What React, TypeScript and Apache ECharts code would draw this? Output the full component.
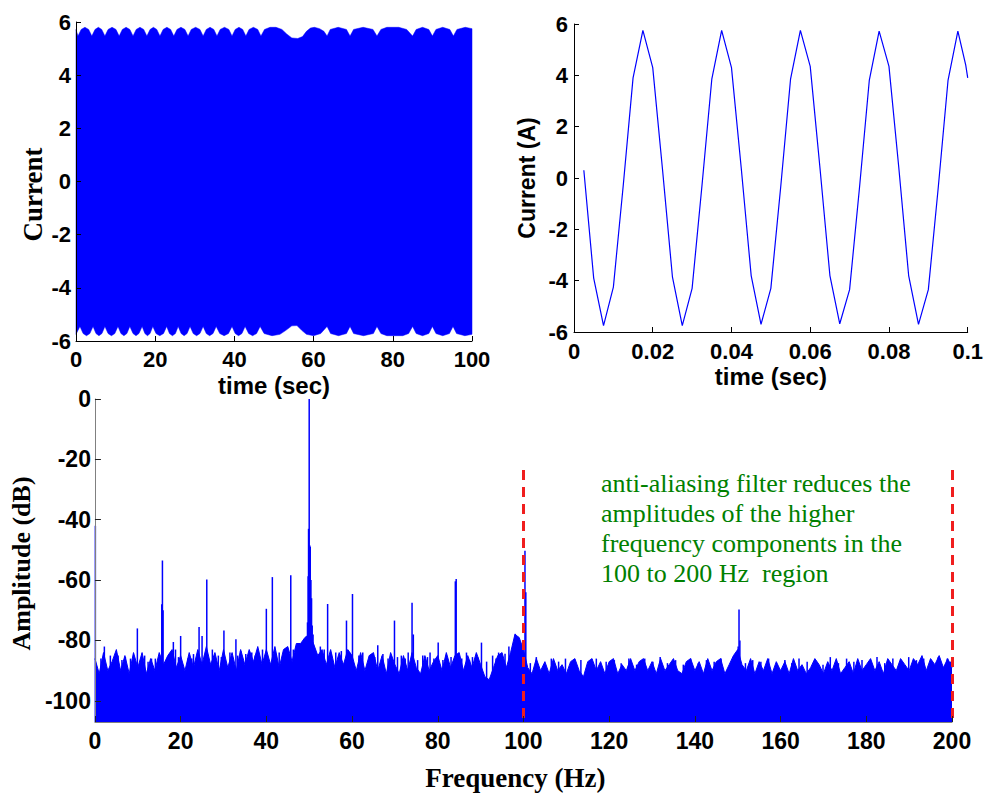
import React, { useEffect, useRef } from 'react';
import * as echarts from 'echarts';

// ---------- top-left: 100 s record, envelope of the dense 50 Hz trace ----------
const TL_X_TICKS = [0, 20, 40, 60, 80, 100];
const TL_Y_TICKS = [-6, -4, -2, 0, 2, 4, 6];
const envUpperT = [0, 0.5, 1.3, 2.25, 3.2, 4.0, 4.8, 5.65, 6.5, 7.3, 8.1, 9.1, 10.1, 10.9, 11.7, 12.65, 13.6, 14.4,
  15.2, 16.15, 17.1, 17.9, 18.7, 19.55, 20.4, 21.2, 22.0, 22.95, 23.9, 24.7, 25.5, 26.5, 27.5, 28.3, 29.1, 30.2, 31.3,
  32.1, 32.9, 33.85, 34.8, 35.6, 36.4, 37.5, 38.6, 39.4, 40.2, 41.15, 42.1, 42.9, 43.7, 44.8, 45.9, 46.7, 47.6, 49,
  50.5, 52, 53.2, 54.5, 56, 57.2, 58.2, 59.2, 60.2, 61.5, 62.6, 63.4, 64.2, 66.2, 68.3, 69.2, 70.1, 72.5, 75.0, 76,
  77, 78.5, 81.5, 83.5, 85, 85.9, 87.5, 89.1, 90, 90.9, 92.6, 94.4, 95.3, 96.2, 98.3, 100];
const envUpperV = [5.72, 5.47, 5.72, 5.8, 5.72, 5.47, 5.72, 5.8, 5.72, 5.47, 5.72, 5.8, 5.72, 5.47, 5.72, 5.8, 5.72, 5.47,
  5.72, 5.8, 5.72, 5.47, 5.72, 5.8, 5.72, 5.47, 5.72, 5.8, 5.72, 5.47, 5.72, 5.8, 5.72, 5.47, 5.72, 5.8, 5.72,
  5.47, 5.72, 5.8, 5.72, 5.47, 5.72, 5.8, 5.72, 5.47, 5.72, 5.8, 5.72, 5.47, 5.72, 5.8, 5.72, 5.47, 5.72, 5.8,
  5.8, 5.72, 5.55, 5.4, 5.38, 5.45, 5.65, 5.77, 5.8, 5.75, 5.65, 5.47, 5.72, 5.8, 5.72, 5.47, 5.72, 5.8, 5.72, 5.47,
  5.72, 5.8, 5.8, 5.72, 5.47, 5.72, 5.8, 5.72, 5.47, 5.72, 5.8, 5.72, 5.47, 5.72, 5.8, 5.75];
const envLowerT = [0, 1.0, 1.8, 2.65, 3.5, 4.3, 5.05, 5.8, 6.55, 7.3, 8.1, 8.95, 9.8, 10.6, 11.35, 12.1, 12.85, 13.6,
  14.4, 15.15, 15.9, 16.7, 17.4, 18.05, 18.7, 19.4, 20.2, 21.15, 22.1, 22.9, 23.6, 24.35, 25.1, 25.8, 26.55, 27.3,
  28.05, 28.8, 29.6, 30.45, 31.3, 32.1, 32.9, 33.75, 34.6, 35.4, 36.3, 37.4, 38.5, 39.4, 40.2, 41.05, 41.9, 42.7,
  43.6, 44.6, 45.6, 46.5, 47.5, 49.5, 51.5, 53, 54.5, 55.8, 57, 58.2, 60, 61.8, 63.4, 64.3, 66.3, 68.3, 69.2, 70.1,
  72.6, 75.1, 76, 77, 78.5, 82.5, 84, 85, 85.9, 87.5, 89.1, 90, 90.9, 92.6, 94.3, 95.2, 96.1, 98.2, 100];
const envLowerV = [-5.75, -5.45, -5.72, -5.8, -5.72, -5.45, -5.72, -5.8, -5.72, -5.45, -5.72, -5.8, -5.72, -5.45, -5.72, -5.8, -5.72, -5.45,
  -5.72, -5.8, -5.72, -5.45, -5.72, -5.8, -5.72, -5.45, -5.72, -5.8, -5.72, -5.45, -5.72, -5.8, -5.72, -5.45, -5.72, -5.8,
  -5.72, -5.45, -5.72, -5.8, -5.72, -5.45, -5.72, -5.8, -5.72, -5.45, -5.72, -5.8, -5.72, -5.45, -5.72, -5.8, -5.72, -5.45,
  -5.72, -5.8, -5.72, -5.45, -5.72, -5.8, -5.75, -5.6, -5.43, -5.42, -5.6, -5.75, -5.8, -5.72, -5.45, -5.72, -5.8, -5.72, -5.45, -5.72,
  -5.8, -5.72, -5.45, -5.72, -5.8, -5.8, -5.72, -5.45, -5.72, -5.8, -5.72, -5.45, -5.72, -5.8, -5.72, -5.45, -5.72, -5.8, -5.75];

// ---------- top-right: first 0.1 s, samples ----------
const TR_X_TICKS = [0, 0.02, 0.04, 0.06, 0.08, 0.1];
const TR_X_LABELS = ['0', '0.02', '0.04', '0.06', '0.08', '0.1'];
const sampleT = [0.0025, 0.005, 0.0075, 0.01, 0.0125, 0.015, 0.0175, 0.02,
  0.0225, 0.025, 0.0275, 0.03, 0.0325, 0.035, 0.0375, 0.04,
  0.0425, 0.045, 0.0475, 0.05, 0.0525, 0.055, 0.0575, 0.06,
  0.0625, 0.065, 0.0675, 0.07, 0.0725, 0.075, 0.0775, 0.08,
  0.0825, 0.085, 0.0875, 0.09, 0.0925, 0.095, 0.0975, 0.0995, 0.1];
const sampleI = [0.3, -3.9, -5.75, -4.25, -0.3, 3.9, 5.75, 4.3,
  0.3, -3.85, -5.75, -4.3, -0.3, 3.85, 5.75, 4.3,
  0.35, -3.8, -5.7, -4.3, -0.35, 3.85, 5.75, 4.35,
  0.35, -3.8, -5.68, -4.35, -0.4, 3.8, 5.72, 4.35,
  0.4, -3.8, -5.7, -4.35, -0.4, 3.8, 5.72, 4.4, 3.9];

// ---------- bottom: spectrum ----------
const F_TICKS = [0, 20, 40, 60, 80, 100, 120, 140, 160, 180, 200];
const DB_TICKS = [0, -20, -40, -60, -80, -100];
const DB_MIN = -107;
// noise-floor upper edge, one value per Hz from 0 to 200 Hz
const noiseTop = [
  -86, -91, -84, -90, -87, -83, -90, -85, -91, -84,
  -89, -84, -91, -86, -90, -84, -88, -85, -83, -89,
  -85, -90, -84, -89, -83, -88, -82, -88, -84, -90,
  -83, -89, -84, -90, -83, -88, -83, -87, -82, -88,
  -83, -88, -82, -89, -83, -82, -87, -81, -81, -79,
  -78, -81, -85, -83, -88, -83, -89, -84, -88, -83,
  -85, -90, -84, -90, -85, -84, -90, -85, -91, -84,
  -88, -91, -85, -90, -84, -89, -91, -85, -90, -87,
  -85, -90, -84, -89, -85, -84, -90, -85, -89, -84,
  -88, -92, -93, -89, -85, -84, -89, -84, -78, -79,
  -83, -89, -91, -86, -90, -87, -91, -86, -90, -88,
  -91, -87, -86, -90, -92, -87, -86, -90, -87, -91,
  -87, -86, -91, -88, -90, -86, -90, -87, -86, -90,
  -87, -91, -86, -90, -88, -86, -90, -91, -87, -86,
  -90, -87, -91, -86, -90, -87, -86, -91, -88, -85,
  -83, -88, -90, -86, -91, -87, -90, -86, -91, -87,
  -90, -87, -91, -86, -90, -88, -91, -89, -86, -88,
  -91, -87, -90, -86, -91, -89, -87, -91, -86, -90,
  -88, -86, -90, -87, -91, -86, -88, -90, -86, -88,
  -90, -86, -88, -85, -90, -86, -88, -85, -89, -86,
  -89];
// discrete spectral lines (Hz, dB)
const spikeFreq = [0.1, 2.2, 9.9, 11.6, 15.6, 15.75, 15.9, 18.3, 18.8, 20.0, 24.3, 25.0, 26.1, 30.1, 32.9,
  40.0, 41.4, 45.7, 49.4, 49.6, 49.75, 49.85, 50.0, 50.15, 50.25, 50.4, 50.55, 50.7, 50.9,
  54.3, 58.7, 60.1, 66.0, 69.9, 74.0, 74.3, 80.1, 84.1, 84.3, 90.2, 95.7, 98.1, 98.5, 100.35, 100.55,
  150.1, 150.3, 150.5,
  3.6, 5.4, 7.1, 8.3, 13.2, 17.2, 21.7, 23.0, 27.4, 28.8, 31.5, 34.0, 36.6, 38.2, 39.1, 43.0, 44.3, 47.0,
  52.6, 53.5, 56.2, 57.5, 62.5, 64.1, 67.2, 71.5, 73.1, 76.5, 78.2, 82.0, 86.7, 88.1, 92.8, 94.2, 96.6,
  1.4, 4.6, 6.3, 12.4, 14.1, 19.5, 22.6, 25.6, 29.5, 33.3, 35.2, 37.4, 42.2, 46.3, 55.1, 59.4, 61.6, 65.3,
  68.4, 70.6, 72.4, 75.3, 77.6, 79.1, 81.2, 83.1, 85.6, 87.4, 89.3, 91.4, 93.6, 97.2,
  103.0, 106.5, 109.8, 113.4, 117.0, 121.2, 124.6, 128.3, 131.9, 135.5, 139.0, 142.7, 146.1, 153.5, 157.2,
  161.0, 164.3, 168.1, 171.6, 175.4, 179.0, 182.5, 186.2, 189.9, 193.4, 196.8, 198.9,
  101.6, 104.8, 108.2, 111.7, 115.1, 119.3, 122.8, 126.4, 130.2, 133.6, 137.3, 140.8, 144.5, 148.2, 151.8, 155.4,
  159.1, 162.6, 166.2, 169.9, 173.5, 177.1, 180.8, 184.3, 188.0, 191.7, 195.1, 199.6];
const spikeDb = [-42, -82, -76, -85, -68, -53.5, -70, -80.5, -83, -78.5, -75.5, -78.5, -59.8, -76.7, -79.6,
  -69.5, -59, -58.4, -79, -74, -58.7, -43, 0, -48.5, -49, -60, -66, -75, -78,
  -67.9, -73.4, -64.6, -81.6, -73.4, -67.5, -78, -80.7, -60.4, -59.6, -80.7, -84.4, -77.8, -80, -50.3, -64,
  -82, -69.7, -80,
  -85, -85, -85.5, -86, -86, -85, -86, -84.5, -83, -85, -84, -83.5, -84, -84.5, -83, -84, -83.5, -82,
  -82, -83, -84, -83.5, -84, -85, -84.5, -85, -84, -85, -84, -85, -84, -85.5, -85, -84, -82,
  -86, -87, -86.5, -87, -86, -85.5, -86, -85, -85.5, -85, -84.5, -85, -84.5, -83, -84.5, -84, -85, -85.5,
  -86, -85.5, -86, -86.5, -85.5, -86, -86.5, -85.5, -86, -86.5, -85.5, -87, -86, -84,
  -85.5, -86, -86, -86.5, -86, -86.5, -86, -86, -85.5, -86.5, -86, -86.5, -86, -86.5, -86,
  -86.5, -86, -86.5, -85.5, -86, -86.5, -85.5, -86, -85.5, -86, -85.5, -86,
  -87.5, -88, -87, -87.5, -88, -87, -87.5, -88, -87, -87.5, -88, -87.5, -87, -88, -87.5, -87,
  -88, -87.5, -87, -88, -87.5, -87, -88, -87.5, -87, -86.5, -87.5, -87];
const cutoffFreqs = [100, 200];
const cutoffTopDb = -23.5;
const noteLines = [
  'anti-aliasing filter reduces the',
  'amplitudes of the higher',
  'frequency components in the',
  '100 to 200 Hz  region',
];

const SANS = '"Liberation Sans", Arial, Helvetica, sans-serif';
const SERIF = '"Liberation Serif", "Times New Roman", Times, serif';
const BLUE = '#0000ff';

export default function App() {
  const ref = useRef<HTMLDivElement>(null);
  useEffect(() => {
    if (!ref.current) return;
    const chart = echarts.init(ref.current, null, { renderer: 'svg' });

    const tickLabel = (size: number) => ({ fontFamily: SANS, fontWeight: 'bold' as const, fontSize: size, color: '#000' });

    const option: any = {
      animation: false,
      backgroundColor: '#fff',
      grid: [
        { left: 76, top: 22, width: 396, height: 319 },
        { left: 574, top: 24, width: 395, height: 308 },
        { left: 91, top: 399, width: 861, height: 323 },
      ],
      xAxis: [
        {
          gridIndex: 0, type: 'value', min: 0, max: 100, z: 10,
          splitLine: { show: false },
          axisLine: { onZero: false, lineStyle: { color: '#000', width: 1 } },
          axisTick: { inside: true, length: 5, lineStyle: { color: '#000' }, customValues: TL_X_TICKS },
          axisLabel: { ...tickLabel(22), margin: 7, customValues: TL_X_TICKS },
          name: 'time (sec)', nameLocation: 'middle', nameGap: 32,
          nameTextStyle: { fontFamily: SANS, fontWeight: 'bold', fontSize: 24, color: '#000' },
        },
        {
          gridIndex: 1, type: 'value', min: 0, max: 0.1, z: 10,
          splitLine: { show: false },
          axisLine: { onZero: false, lineStyle: { color: '#000', width: 1 } },
          axisTick: { inside: true, length: 5, lineStyle: { color: '#000' }, customValues: TR_X_TICKS },
          axisLabel: {
            ...tickLabel(22), margin: 8, customValues: TR_X_TICKS,
            formatter: (v: number) => {
              const i = TR_X_TICKS.findIndex((t) => Math.abs(t - v) < 1e-9);
              return i >= 0 ? TR_X_LABELS[i] : '';
            },
          },
          name: 'time (sec)', nameLocation: 'middle', nameGap: 32,
          nameTextStyle: { fontFamily: SANS, fontWeight: 'bold', fontSize: 24, color: '#000' },
        },
        {
          gridIndex: 2, type: 'value', min: 0, max: 200, z: 10,
          splitLine: { show: false },
          axisLine: { onZero: false, lineStyle: { color: '#808080', width: 1 } },
          axisTick: { inside: true, length: 6, lineStyle: { color: '#222' }, customValues: F_TICKS },
          axisLabel: { ...tickLabel(23), margin: 7, customValues: F_TICKS },
          name: 'Frequency (Hz)', nameLocation: 'middle', nameGap: 42,
          nameTextStyle: { fontFamily: SERIF, fontWeight: 'bold', fontSize: 27, color: '#000', padding: [0, 16, 0, 0] },
        },
      ],
      yAxis: [
        {
          gridIndex: 0, type: 'value', min: -6, max: 6, z: 10,
          splitLine: { show: false },
          axisLine: { onZero: false, lineStyle: { color: '#000', width: 1 } },
          axisTick: { inside: true, length: 5, lineStyle: { color: '#000' }, customValues: TL_Y_TICKS },
          axisLabel: { ...tickLabel(22), margin: 5, customValues: TL_Y_TICKS },
          name: 'Current', nameLocation: 'middle', nameGap: 30,
          nameTextStyle: { fontFamily: SERIF, fontWeight: 'bold', fontSize: 27, color: '#000', padding: [0, 26, 0, 0] },
        },
        {
          gridIndex: 1, type: 'value', min: -6, max: 6, z: 10,
          splitLine: { show: false },
          axisLine: { onZero: false, lineStyle: { color: '#000', width: 1 } },
          axisTick: { inside: true, length: 5, lineStyle: { color: '#000' }, customValues: TL_Y_TICKS },
          axisLabel: { ...tickLabel(22), margin: 6, customValues: TL_Y_TICKS },
          name: 'Current (A)', nameLocation: 'middle', nameGap: 36,
          nameTextStyle: { fontFamily: SANS, fontWeight: 'bold', fontSize: 23, color: '#000' },
        },
        {
          gridIndex: 2, type: 'value', min: DB_MIN, max: 0, z: 10,
          splitLine: { show: false },
          axisLine: { onZero: false, lineStyle: { color: '#808080', width: 1 } },
          axisTick: { inside: true, length: 6, lineStyle: { color: '#222' }, customValues: DB_TICKS },
          axisLabel: { ...tickLabel(23), margin: 4, customValues: DB_TICKS },
          name: 'Amplitude (dB)', nameLocation: 'middle', nameGap: 57,
          nameTextStyle: { fontFamily: SERIF, fontWeight: 'bold', fontSize: 26, color: '#000', padding: [0, 6, 0, 0] },
        },
      ],
      series: [
        {
          type: 'custom', xAxisIndex: 0, yAxisIndex: 0, data: [[0, 0]], silent: true,
          renderItem: (_p: any, api: any) => {
            const pts: number[][] = [];
            envUpperT.forEach((t, i) => pts.push(api.coord([t, envUpperV[i]])));
            for (let i = envLowerT.length - 1; i >= 0; i--) pts.push(api.coord([envLowerT[i], envLowerV[i]]));
            return { type: 'polygon', shape: { points: pts }, style: { fill: BLUE, stroke: BLUE, lineWidth: 0.5 } };
          },
        },
        {
          type: 'line', xAxisIndex: 1, yAxisIndex: 1, showSymbol: false, silent: true,
          data: sampleT.map((t, i) => [t, sampleI[i]]),
          lineStyle: { color: BLUE, width: 1.2 },
        },
        {
          type: 'line', xAxisIndex: 2, yAxisIndex: 2, showSymbol: false, silent: true,
          data: noiseTop.map((v, i) => [i, v]),
          lineStyle: { color: BLUE, width: 1 },
          areaStyle: { color: BLUE, opacity: 1, origin: 'start' },
        },
        {
          type: 'custom', xAxisIndex: 2, yAxisIndex: 2, silent: true,
          data: spikeFreq.map((f, i) => [f, spikeDb[i]]),
          renderItem: (_p: any, api: any) => {
            const f = api.value(0);
            const v = api.value(1);
            const p0 = api.coord([f, DB_MIN]);
            const p1 = api.coord([f, v]);
            return {
              type: 'line',
              shape: { x1: p0[0], y1: p0[1], x2: p1[0], y2: p1[1] },
              style: { stroke: BLUE, lineWidth: 1.5 },
            };
          },
          markLine: {
            silent: true, symbol: ['none', 'none'], label: { show: false },
            lineStyle: { color: '#f01e1e', width: 3, type: [10, 7] },
            data: cutoffFreqs.map((f) => [{ coord: [f, cutoffTopDb] }, { coord: [f, DB_MIN] }]),
          },
        },
      ],
      graphic: [
        {
          type: 'text', left: 601, top: 468, silent: true,
          style: {
            text: noteLines.join('\n'),
            fontFamily: SERIF, fontSize: 26, lineHeight: 30, fill: '#008000',
          },
        },
      ],
    };
    chart.setOption(option);
    return () => chart.dispose();
  }, []);
  return <div ref={ref} style={{ position: 'fixed', left: 0, top: 0, width: 986, height: 794, background: '#fff' }} />;
}
